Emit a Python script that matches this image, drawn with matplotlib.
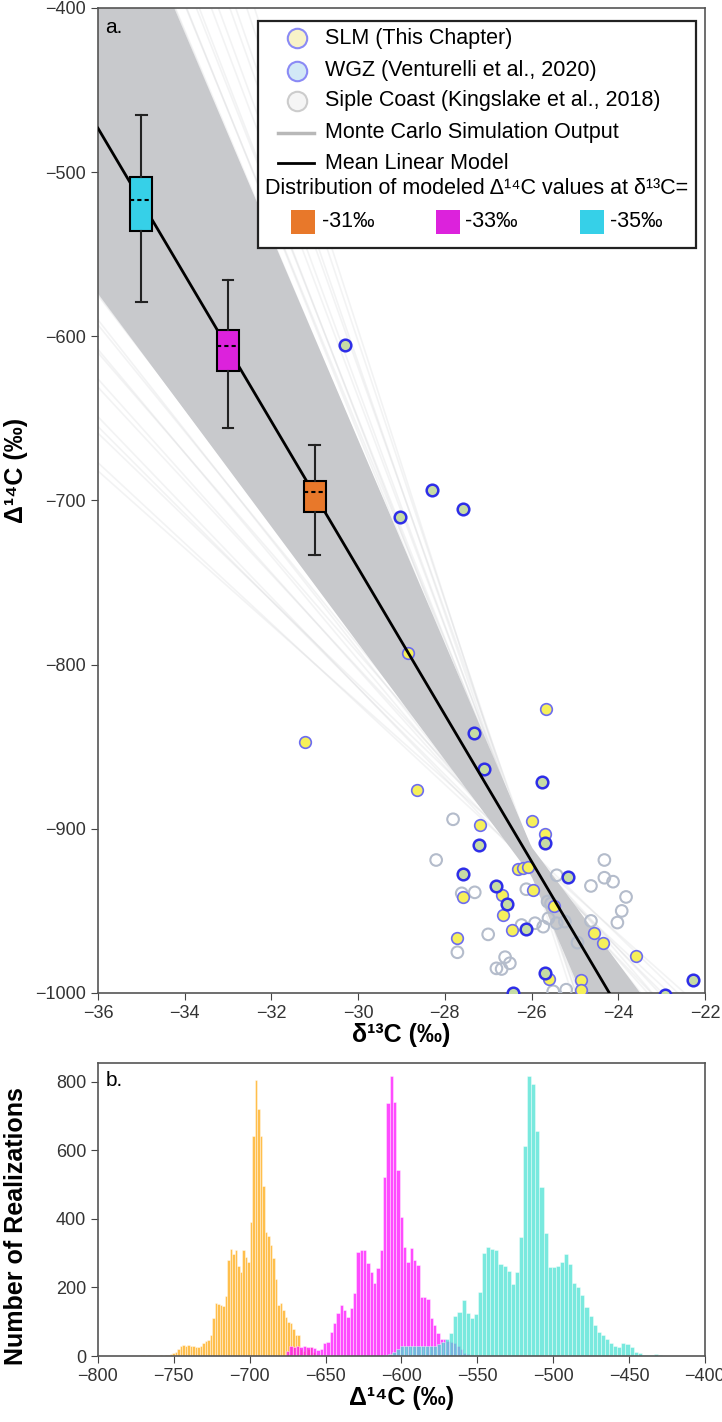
import numpy as np
import matplotlib.pyplot as plt
from matplotlib.patches import Rectangle
from matplotlib.lines import Line2D

plt.rcParams['font.family'] = ['Liberation Sans', 'DejaVu Sans']

# ---------------- panel a: observations (d13C, D14C) ----------------
slm_d13c = [-28.86, -25.67, -31.23, -28.64, -27.18, -25.98, -25.68, -26.31, -26.19, -26.08,
            -27.59, -26.67, -25.96, -25.48, -26.65, -26.44, -24.55, -24.36, -27.71, -23.59,
            -25.60, -24.87, -24.85]
slm_d14c = [-792.7, -826.8, -847.3, -876.3, -897.7, -895.2, -903.3, -924.6, -924.0, -923.4,
            -941.3, -940.3, -937.2, -947.0, -952.4, -961.6, -963.3, -969.3, -966.7, -977.3,
            -991.7, -992.1, -998.0]
wgz_d13c = [-30.30, -28.30, -29.04, -27.57, -27.33, -27.10, -25.75, -25.68, -27.22, -25.15,
            -27.58, -26.82, -26.56, -26.12, -25.68, -22.27, -26.42, -22.92]
wgz_d14c = [-605.3, -693.6, -710.2, -705.4, -841.4, -863.7, -871.3, -908.8, -910.0, -929.1,
            -927.5, -934.8, -945.7, -961.2, -987.6, -992.1, -1000.0, -1001.0]
siple_d13c = [-27.81, -28.20, -24.32, -25.42, -24.32, -24.12, -24.63, -27.61, -27.31, -26.12,
              -25.63, -25.55, -23.82, -23.92, -24.02, -24.63, -25.61, -25.42, -25.73, -25.92,
              -26.23, -25.23, -27.00, -24.94, -27.71, -26.61, -26.50, -26.81, -26.69, -25.20,
              -25.50]
siple_d14c = [-894.2, -919.0, -919.0, -928.3, -929.8, -932.2, -934.8, -939.3, -938.7, -936.8,
              -944.3, -945.5, -941.5, -950.0, -957.1, -956.1, -954.5, -957.5, -959.6, -957.5,
              -958.6, -956.5, -964.3, -969.3, -975.2, -978.2, -981.9, -985.0, -985.4, -998.0,
              -999.0]

# mean linear model  D14C = slope * d13C + intercept
mean_slope = -44.66
mean_intercept = -2081.0

# Monte Carlo realizations: lines through a pivot with slope / offset
mc_pivot_x = -26.0
mc_pivot_y = -920.0
mc_core_slopes = [-35.5, -35.5, -62.0, -62.0]
mc_core_offsets = [9.0, -9.0, 9.0, -9.0]
mc_tail_slopes = [-23.5, -24.5, -25.5, -26.5, -27.5, -28.5, -29.5, -30.5, -31.5, -32.5, -33.5,
                  -34.2, -34.8, -62.8, -63.5, -64.5, -65.5, -67, -68.5, -70, -72, -74, -76.5,
                  -79, -82]
mc_tail_offsets = [3, -2, 6, 0, -4, 4, -1, 5, -3, 2, -5, 3, -2,
                   4, -3, 6, -1, 2, -5, 3, 0, 5, -2, 1, -4]

# modeled D14C distributions at d13C = -31, -33, -35
box_pos = [-31, -33, -35]
box_labels = ['-31‰', '-33‰', '-35‰']
box_colors = ['#e8782a', '#dc22dc', '#36d0e8']
box_med = [-695.0, -606.0, -517.0]
box_q1 = [-707.0, -621.0, -536.0]
box_q3 = [-688.0, -596.0, -503.0]
box_lo = [-733.0, -656.0, -579.0]
box_hi = [-666.0, -566.0, -465.0]

# ---------------- panel b: histograms of modeled D14C ----------------
orange_start, orange_bw = -772.5, 1.65
orange_counts = [2, 2, 1, 2, 0, 1, 0, 1, 2, 1, 2, 3, 5, 8, 12, 20, 30, 31, 30, 31,
                 30, 30, 26, 25, 28, 38, 45, 48, 60, 110, 155, 152, 148, 146, 175, 280, 312, 296, 310, 262,
                 245, 310, 290, 275, 390, 640, 805, 720, 640, 495, 360, 350, 325, 285, 225, 150, 155, 135, 115, 100,
                 95, 80, 60, 60, 20, 15, 25, 20, 25, 12, 5, 3]
magenta_start, magenta_bw = -676.0, 2.2
magenta_counts = [15, 30, 27, 28, 26, 28, 25, 27, 22, 19, 20, 37, 40, 71, 95, 125, 149, 134, 115, 139,
                  183, 302, 309, 309, 272, 246, 214, 256, 309, 522, 738, 817, 740, 543, 405, 319, 275, 314, 280, 266,
                  173, 171, 165, 110, 91, 66, 50, 50, 45, 40, 37, 30, 20, 10, 5]
cyan_start, cyan_bw = -611.7, 2.7
cyan_counts = [3, 6, 12, 20, 28, 30, 30, 30, 29, 29, 28, 28, 30, 34, 40, 50, 66,
               117, 127, 162, 125, 110, 123, 188, 300, 319, 311, 308, 268, 261, 249, 210, 246, 348, 613,
               815, 794, 655, 494, 358, 259, 259, 263, 275, 297, 269, 214, 200, 178, 144, 117, 91, 71,
               61, 49, 37, 29, 27, 37, 34, 25, 12, 8, 4, 3, 4, 5, 4, 1]

fig = plt.figure(figsize=(7.22, 14.22), dpi=100)
ax = fig.add_axes([0.1357, 0.3017, 0.8407, 0.6927])
axb = fig.add_axes([0.1357, 0.0464, 0.8407, 0.2063])

# ---- Monte Carlo fan ----
xg = np.linspace(-36, -22, 300)
core = np.array([mc_pivot_y + s * (xg - mc_pivot_x) + o
                 for s, o in zip(mc_core_slopes, mc_core_offsets)])
ax.fill_between(xg, core.min(axis=0), core.max(axis=0), color='#c8c9cc', lw=0, zorder=1)
for s, o in zip(mc_tail_slopes, mc_tail_offsets):
    ax.plot(xg, mc_pivot_y + s * (xg - mc_pivot_x) + o, color='#c8c9cc', lw=1.2, alpha=0.22, zorder=1)

# ---- observations ----
ax.scatter(siple_d13c, siple_d14c, s=70, facecolor='none', edgecolor='#b4bccb', lw=1.5, zorder=3)
ax.scatter(slm_d13c, slm_d14c, s=70, facecolor='#f6f05a', edgecolor='#6c6cf0', lw=1.2, zorder=3)
ax.scatter(wgz_d13c, wgz_d14c, s=70, facecolor='#c6dca4', edgecolor='#2e2ee8', lw=1.8, zorder=3)

# ---- mean model ----
ax.plot(xg, mean_slope * xg + mean_intercept, color='black', lw=2, zorder=4)

# ---- boxes ----
stats = [dict(med=m, q1=a, q3=b, whislo=lo, whishi=hi, fliers=[])
         for m, a, b, lo, hi in zip(box_med, box_q1, box_q3, box_lo, box_hi)]
bp = ax.bxp(stats, positions=box_pos, widths=0.5, patch_artist=True, showfliers=False,
            manage_ticks=False, zorder=5,
            boxprops=dict(edgecolor='black', lw=1.5),
            whiskerprops=dict(color='#222222', lw=1.5),
            capprops=dict(color='#222222', lw=1.5),
            medianprops=dict(color='black', lw=1.5, linestyle=(0, (2, 1.5))))
for patch, c in zip(bp['boxes'], box_colors):
    patch.set_facecolor(c)

ax.set_xlim(-36, -22)
ax.set_ylim(-1000, -400)
ax.set_xticks(np.arange(-36, -21, 2))
ax.set_yticks(np.arange(-1000, -399, 100))
ax.set_xlabel('δ¹³C (‰)', fontsize=18, fontweight='bold', labelpad=1)
ax.set_ylabel('Δ¹⁴C (‰)', fontsize=18, fontweight='bold', labelpad=6)
ax.yaxis.set_label_coords(-0.115, 0.53)
ax.text(0.012, 0.99, 'a.', transform=ax.transAxes, fontsize=15, va='top', ha='left', zorder=7)

# ---- legend (drawn by hand in axes fraction) ----
T = ax.transAxes
ax.add_patch(Rectangle((0.2636, 0.756), 0.7214, 0.231, transform=T, facecolor='white',
                       edgecolor='#222222', lw=1.6, zorder=6))
rows = [0.9692, 0.9363, 0.9056, 0.8734, 0.8423]
labels = ['SLM (This Chapter)', 'WGZ (Venturelli et al., 2020)',
          'Siple Coast (Kingslake et al., 2018)', 'Monte Carlo Simulation Output',
          'Mean Linear Model']
mk = [('#f8f3c8', '#8a8af5'), ('#d2e8f6', '#8a8af5'), ('#f5f5f5', '#cccccc')]
for (fc, ec), y in zip(mk, rows[:3]):
    ax.add_line(Line2D([0.3283], [y], transform=T, marker='o', ms=14, mfc=fc, mec=ec,
                       mew=1.5, ls='none', zorder=7))
ax.add_line(Line2D([0.2965, 0.3558], [rows[3]] * 2, transform=T, color='#b8b8b8', lw=2.5, zorder=7))
ax.add_line(Line2D([0.2965, 0.3558], [rows[4]] * 2, transform=T, color='black', lw=2, zorder=7))
for lab, y in zip(labels, rows):
    ax.text(0.374, y, lab, transform=T, fontsize=15.5, va='center', ha='left', zorder=7)
ax.text(0.2751, 0.8170, 'Distribution of modeled Δ¹⁴C values at δ¹³C=', transform=T,
        fontsize=15.5, va='center', ha='left', zorder=7)
for c, lab, px, tx in zip(box_colors, box_labels, [0.3175, 0.5563, 0.7941], [0.3685, 0.6046, 0.8435]):
    ax.add_patch(Rectangle((px, 0.7708), 0.0395, 0.0244, transform=T, facecolor=c,
                           edgecolor='none', zorder=7))
    ax.text(tx, 0.7830, lab, transform=T, fontsize=15.5, va='center', ha='left', zorder=7)

# ---- panel b ----
for start, bw, counts, col in [(orange_start, orange_bw, orange_counts, 'orange'),
                               (magenta_start, magenta_bw, magenta_counts, 'magenta'),
                               (cyan_start, cyan_bw, cyan_counts, 'turquoise')]:
    edges = start + bw * np.arange(len(counts))
    axb.bar(edges, counts, width=bw, align='edge', color=col, alpha=0.7,
            edgecolor='white', linewidth=0.4)
axb.set_xlim(-800, -400)
axb.set_ylim(0, 855)
axb.set_xticks(np.arange(-800, -399, 50))
axb.set_yticks(np.arange(0, 801, 200))
axb.set_xlabel('Δ¹⁴C (‰)', fontsize=18, fontweight='bold', labelpad=1)
axb.set_ylabel('Number of Realizations', fontsize=18, fontweight='bold', labelpad=6)
axb.yaxis.set_label_coords(-0.115, 0.443)
axb.text(0.012, 0.97, 'b.', transform=axb.transAxes, fontsize=15, va='top', ha='left')

for a in (ax, axb):
    a.tick_params(labelsize=13, labelcolor='#333333', color='#444444', length=5)
    for sp in a.spines.values():
        sp.set_color('#555555')
        sp.set_linewidth(1.2)

fig.savefig('out.png', dpi=100)
